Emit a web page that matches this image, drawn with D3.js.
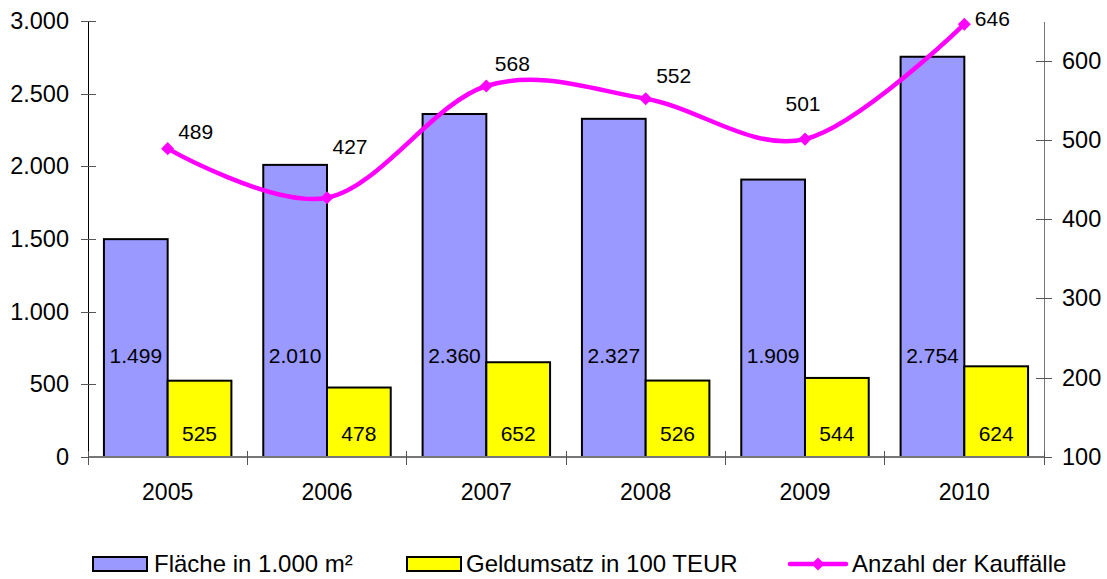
<!DOCTYPE html>
<html lang="de">
<head>
<meta charset="UTF-8">
<title>Fläche, Geldumsatz, Kauffälle</title>
<script src="https://cdn.jsdelivr.net/npm/d3@7"></script>
<style>
    body { margin: 0; background: #fff; }
    svg text { font-family: "Liberation Sans", Arial, sans-serif; fill: #000; }
    .axis path, .axis line { shape-rendering: crispEdges; }
</style>
</head>
<body>
<div id="chart"></div>
<script>
// data
const years = ["2005", "2006", "2007", "2008", "2009", "2010"];
const flaeche = [1499, 2010, 2360, 2327, 1909, 2754];      // Fläche in 1.000 m²
const geldumsatz = [525, 478, 652, 526, 544, 624];         // Geldumsatz in 100 TEUR
const kauffaelle = [489, 427, 568, 552, 501, 646];         // Anzahl der Kauffälle
const leftTicks = [0, 500, 1000, 1500, 2000, 2500, 3000];
const rightTicks = [100, 200, 300, 400, 500, 600];
const legendLabels = ["Fläche in 1.000 m²", "Geldumsatz in 100 TEUR", "Anzahl der Kauffälle"];

// label nudges for the line values (dx, dy in px)
const lineLabelNudge = [[28, -17], [23, -51], [26, -22], [28, -23], [-2, -35], [28, -6]];

const W = 1107, H = 579;
const plot = {left: 88, right: 1044, top: 21, bottom: 457};

const de = d3.formatLocale({decimal: ",", thousands: ".", grouping: [3], currency: ["", " €"]});
const fmt = de.format(",d");

const svg = d3.select("#chart").append("svg")
    .attr("width", W)
    .attr("height", H);

const x = d3.scaleBand()
    .domain(years)
    .range([plot.left, plot.right])
    .padding(0);

const xSub = d3.scaleBand()
    .domain(["flaeche", "geld"])
    .range([0, x.bandwidth()])
    .paddingInner(0)
    .paddingOuter(0.25);

const yLeft = d3.scaleLinear().domain([0, 3000]).range([plot.bottom, plot.top]);
const yRight = d3.scaleLinear().domain([100, 650]).range([plot.bottom, plot.top]);

// bars
const groups = svg.append("g").selectAll("g")
    .data(years)
    .join("g")
    .attr("transform", d => "translate(" + x(d) + ",0)");

groups.append("rect")
    .attr("x", xSub("flaeche"))
    .attr("width", xSub.bandwidth())
    .attr("y", (d, i) => yLeft(flaeche[i]))
    .attr("height", (d, i) => yLeft(0) - yLeft(flaeche[i]))
    .attr("fill", "#9999ff")
    .attr("stroke", "#000")
    .attr("stroke-width", 2);

groups.append("rect")
    .attr("x", xSub("geld"))
    .attr("width", xSub.bandwidth())
    .attr("y", (d, i) => yLeft(geldumsatz[i]))
    .attr("height", (d, i) => yLeft(0) - yLeft(geldumsatz[i]))
    .attr("fill", "#ffff00")
    .attr("stroke", "#000")
    .attr("stroke-width", 2);

// bar labels
groups.append("text")
    .attr("x", xSub("flaeche") + xSub.bandwidth() / 2)
    .attr("y", yLeft(700))
    .attr("dy", "0.35em")
    .attr("text-anchor", "middle")
    .attr("font-size", 21)
    .text((d, i) => fmt(flaeche[i]));

groups.append("text")
    .attr("x", xSub("geld") + xSub.bandwidth() / 2)
    .attr("y", yLeft(160))
    .attr("dy", "0.35em")
    .attr("text-anchor", "middle")
    .attr("font-size", 21)
    .text((d, i) => fmt(geldumsatz[i]));

// axes
const leftAxis = svg.append("g")
    .attr("class", "axis")
    .attr("transform", "translate(" + plot.left + ",0)")
    .call(d3.axisLeft(yLeft).tickValues(leftTicks).tickFormat(fmt).tickSizeInner(7).tickSizeOuter(0).tickPadding(12));
leftAxis.select(".domain").attr("stroke", "#000").attr("stroke-width", 1.5);
leftAxis.selectAll(".tick line").attr("x2", -7).attr("x1", 8).attr("stroke", "#555");
leftAxis.selectAll("text").attr("font-size", 23.5).attr("font-family", "Liberation Sans, Arial, sans-serif");

const rightAxis = svg.append("g")
    .attr("class", "axis")
    .attr("transform", "translate(" + plot.right + ",0)")
    .call(d3.axisRight(yRight).tickValues(rightTicks).tickSizeInner(8).tickSizeOuter(0).tickPadding(10));
rightAxis.select(".domain").attr("stroke", "#777").attr("stroke-width", 1.5);
rightAxis.selectAll(".tick line").attr("x1", -8).attr("x2", 8).attr("stroke", "#555");
rightAxis.selectAll("text").attr("font-size", 23.5).attr("font-family", "Liberation Sans, Arial, sans-serif");

// bottom axis: ticks at band boundaries, labels at band centres
const bottom = svg.append("g").attr("class", "axis");
bottom.append("line")
    .attr("x1", plot.left).attr("x2", plot.right)
    .attr("y1", yLeft(0)).attr("y2", yLeft(0))
    .attr("stroke", "#777").attr("stroke-width", 1.5);
bottom.selectAll("line.sep")
    .data(years.concat(["end"]))
    .join("line")
    .attr("class", "sep")
    .attr("x1", (d, i) => i < years.length ? x(d) : plot.right)
    .attr("x2", (d, i) => i < years.length ? x(d) : plot.right)
    .attr("y1", yLeft(0) - 6).attr("y2", yLeft(0) + 8)
    .attr("stroke", "#555");
bottom.selectAll("text")
    .data(years)
    .join("text")
    .attr("x", d => x(d) + x.bandwidth() / 2)
    .attr("y", 492)
    .attr("dy", "0.35em")
    .attr("text-anchor", "middle")
    .attr("font-size", 23)
    .text(d => d);

// line series on right axis
const pts = years.map((d, i) => [x(d) + x.bandwidth() / 2, yRight(kauffaelle[i])]);
const lineGen = d3.line().curve(d3.curveCardinal.tension(0));

svg.append("path")
    .attr("d", lineGen(pts))
    .attr("fill", "none")
    .attr("stroke", "#ff00ff")
    .attr("stroke-width", 4.5)
    .attr("stroke-linejoin", "round");

const diamond = d3.symbol().type(d3.symbolSquare).size(85);
svg.append("g").selectAll("path")
    .data(pts)
    .join("path")
    .attr("d", diamond)
    .attr("transform", d => "translate(" + d[0] + "," + d[1] + ") rotate(45)")
    .attr("fill", "#ff00ff");

svg.append("g").selectAll("text")
    .data(pts)
    .join("text")
    .attr("x", (d, i) => d[0] + lineLabelNudge[i][0])
    .attr("y", (d, i) => d[1] + lineLabelNudge[i][1])
    .attr("dy", "0.35em")
    .attr("text-anchor", "middle")
    .attr("font-size", 21)
    .text((d, i) => kauffaelle[i]);

// legend
const legend = svg.append("g");
const legY = 564;
const legX = [93, 407, 790];

legend.append("rect")
    .attr("x", legX[0]).attr("y", legY - 7).attr("width", 54).attr("height", 14)
    .attr("fill", "#9999ff").attr("stroke", "#000").attr("stroke-width", 2);
legend.append("rect")
    .attr("x", legX[1]).attr("y", legY - 7).attr("width", 54).attr("height", 14)
    .attr("fill", "#ffff00").attr("stroke", "#000").attr("stroke-width", 2);
legend.append("line")
    .attr("x1", legX[2]).attr("x2", legX[2] + 56)
    .attr("y1", legY).attr("y2", legY)
    .attr("stroke", "#ff00ff").attr("stroke-width", 4.5).attr("stroke-linecap", "round");
legend.append("path")
    .attr("d", diamond)
    .attr("transform", "translate(" + (legX[2] + 28) + "," + legY + ") rotate(45)")
    .attr("fill", "#ff00ff");

legend.selectAll("text")
    .data(legendLabels)
    .join("text")
    .attr("x", (d, i) => legX[i] + [61, 59, 62][i])
    .attr("y", legY)
    .attr("dy", "0.35em")
    .attr("font-size", 24)
    .text(d => d);
</script>
</body>
</html>
